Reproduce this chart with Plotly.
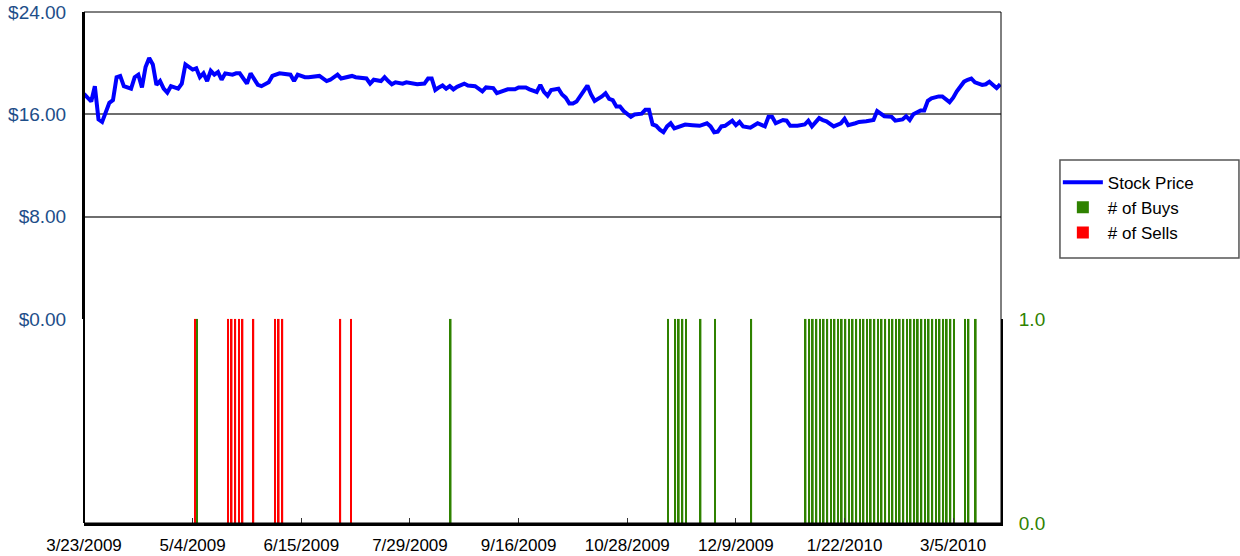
import plotly.graph_objects as go

# trading-day index (0 = 3/23/2009) and closing price
price_day = [0, 2, 3, 4, 5, 7, 8, 9, 10, 11, 13, 14, 15, 16, 17, 18, 19, 20, 21, 22, 23, 24,
             26, 27, 28, 29, 30, 31, 32, 33, 34, 35, 36, 37, 38, 39, 41, 42, 43, 45, 46, 48,
             49, 51, 52, 54, 56, 57, 58, 59, 61, 62, 65, 66, 67, 68, 70, 71, 73, 74, 75, 77,
             78, 79, 80, 82, 83, 84, 85, 86, 88, 89, 91, 92, 94, 95, 96, 97, 98, 99, 100, 101,
             102, 103, 105, 106, 108, 110, 111, 113, 114, 116, 117, 119, 120, 122, 123, 125,
             126, 127, 128, 129, 131, 132, 133, 134, 135, 136, 137, 138, 139, 140, 141, 143,
             144, 145, 146, 147, 148, 149, 151, 152, 153, 154, 155, 156, 157, 158, 159, 160,
             161, 162, 163, 165, 166, 168, 170, 172, 173, 174, 175, 176, 177, 179, 180, 181,
             182, 184, 185, 186, 188, 189, 190, 191, 193, 194, 195, 197, 199, 200, 201, 203,
             204, 205, 207, 209, 210, 211, 213, 214, 216, 218, 219, 220, 221, 223, 224, 226,
             227, 228, 229, 231, 232, 233, 234, 236, 237, 239, 240, 241, 243, 244, 245, 246,
             248, 249, 250, 251, 252, 253]
price = [17.6, 17.0, 18.2, 15.6, 15.4, 16.9, 17.1, 18.9, 19.0, 18.2, 18.0, 18.9, 19.1, 18.1,
         19.7, 20.4, 19.9, 18.3, 18.6, 18.0, 17.7, 18.2, 18.0, 18.4, 19.9, 19.7, 19.5, 19.6,
         18.9, 19.2, 18.6, 19.4, 19.1, 19.3, 18.7, 19.2, 19.1, 19.2, 19.2, 18.4, 19.2, 18.3,
         18.2, 18.5, 19.0, 19.2, 19.1, 19.1, 18.6, 19.1, 18.9, 18.9, 19.0, 18.8, 18.6, 18.7,
         19.1, 18.8, 18.9, 19.0, 18.9, 18.8, 18.8, 18.4, 18.7, 18.6, 18.9, 18.6, 18.35, 18.5,
         18.4, 18.5, 18.35, 18.35, 18.4, 18.8, 18.8, 17.9, 18.1, 18.25, 18.0, 18.2, 17.95,
         18.15, 18.4, 18.25, 18.2, 17.8, 18.1, 18.05, 17.65, 17.9, 17.95, 17.95, 18.1, 18.1,
         17.95, 17.75, 18.3, 17.75, 17.45, 17.9, 18.0, 17.55, 17.3, 16.85, 16.85, 17.0, 17.4,
         17.75, 18.25, 17.55, 17.05, 17.4, 17.65, 17.2, 17.1, 16.6, 16.6, 16.25, 15.8, 15.98,
         16.0, 16.05, 16.35, 16.35, 15.2, 15.1, 14.8, 14.6, 15.05, 15.3, 14.9, 15.1, 15.2,
         15.15, 15.1, 15.3, 15.05, 14.6, 14.65, 15.05, 15.1, 15.5, 15.15, 15.4, 15.05, 14.95,
         15.15, 15.3, 15.05, 15.8, 15.8, 15.3, 15.55, 15.5, 15.1, 15.1, 15.2, 15.5, 15.05,
         15.7, 15.55, 15.45, 15.05, 15.3, 15.65, 15.15, 15.3, 15.4, 15.45, 15.55, 16.25, 16.0,
         15.85, 15.8, 15.5, 15.6, 15.85, 15.55, 16.0, 16.3, 16.3, 17.05, 17.25, 17.4, 17.4,
         16.95, 17.3, 17.8, 18.55, 18.7, 18.8, 18.5, 18.3, 18.35, 18.55, 18.3, 18.05, 18.35]

# insider transactions (trading-day index)
buy_days = [31, 101, 161, 163, 164, 165, 166, 170, 174, 184] + list(range(199, 241)) + [243, 244, 246]
buy_counts = [1] * len(buy_days)
sell_days = [31, 40, 41, 42, 43, 44, 47, 53, 54, 55, 71, 74]
sell_counts = [1] * len(sell_days)

tick_days = [0, 30, 60, 90, 120, 150, 180, 210, 240]
tick_labels = ["3/23/2009", "5/4/2009", "6/15/2009", "7/29/2009", "9/16/2009",
               "10/28/2009", "12/9/2009", "1/22/2010", "3/5/2010"]
price_ticks = [0, 8, 16, 24]
count_ticks = [0, 1]
x_end = 253.2

BLUE_TXT = "#1d4e89"
GREEN = "#2f8200"
FONT = "Liberation Sans, Arial, sans-serif"

fig = go.Figure()
fig.add_trace(go.Scatter(x=price_day, y=price, mode="lines", name="Stock Price",
                         line=dict(color="#0000ff", width=4), yaxis="y", xaxis="x",
                         legendrank=1))
fig.add_trace(go.Bar(x=sell_days, y=sell_counts, name="# of Sells",
                     marker=dict(color="#ff0000", line=dict(width=0)),
                     yaxis="y2", xaxis="x", legendrank=3))
fig.add_trace(go.Bar(x=buy_days, y=buy_counts, name="# of Buys",
                     marker=dict(color=GREEN, line=dict(width=0)),
                     yaxis="y2", xaxis="x", legendrank=2))

fig.update_layout(
    width=1240, height=556,
    margin=dict(l=84, r=239, t=12, b=33, autoexpand=False),
    paper_bgcolor="white", plot_bgcolor="white",
    font=dict(family=FONT, size=17, color="black"),
    barmode="group", bargap=0.05, bargroupgap=0,
    showlegend=True,
    legend=dict(x=1.062, y=0.617, xanchor="left", yanchor="middle",
                borderwidth=0, bgcolor="rgba(0,0,0,0)",
                font=dict(size=17, family=FONT), tracegroupgap=0,
                itemwidth=40),
    xaxis=dict(range=[0, x_end], tickmode="array",
               tickvals=tick_days, ticktext=tick_labels,
               ticks="inside", ticklen=5, tickcolor="#333", tickwidth=1,
               showline=True, linecolor="black", linewidth=3,
               showgrid=False, zeroline=False, anchor="y2", automargin=False,
               ticklabelstandoff=5, tickfont=dict(size=17)),
    yaxis=dict(domain=[0.3995, 1], range=[0, 24], tickmode="array",
               tickvals=price_ticks, ticktext=[f"${v:.2f}" for v in price_ticks],
               tickfont=dict(color=BLUE_TXT, size=19),
               showgrid=True, gridcolor="#6e6e6e", gridwidth=1.5,
               showline=True, linecolor="black", linewidth=2, automargin=False,
               zeroline=False, ticks="", ticklabelstandoff=12, anchor="x"),
    yaxis2=dict(domain=[0, 0.3995], range=[0, 1], side="right", tickmode="array",
                tickvals=count_ticks, ticktext=[f"{v:.1f}" for v in count_ticks],
                tickfont=dict(color=GREEN, size=19),
                showgrid=False, zeroline=False, automargin=False,
                showline=True, linecolor="black", linewidth=2,
                ticks="", ticklabelstandoff=12, anchor="x"),
    shapes=[
        dict(type="rect", xref="paper", yref="paper", x0=0, x1=1, y0=0, y1=1,
             line=dict(color="black", width=1), layer="above"),
        dict(type="line", xref="paper", yref="paper", x0=0, x1=0, y0=0, y1=1,
             line=dict(color="black", width=2), layer="above"),
        # legend frame
        dict(type="rect", xref="paper", yref="paper", x0=1.0643, x1=1.2595,
             y0=0.5186, y1=0.7104, line=dict(color="#555555", width=1.5),
             fillcolor="rgba(0,0,0,0)", layer="below"),
    ],
)

fig.write_html("out.html", config={"displayModeBar": False},
               post_script="document.body.style.margin='0';document.body.style.padding='0';")
